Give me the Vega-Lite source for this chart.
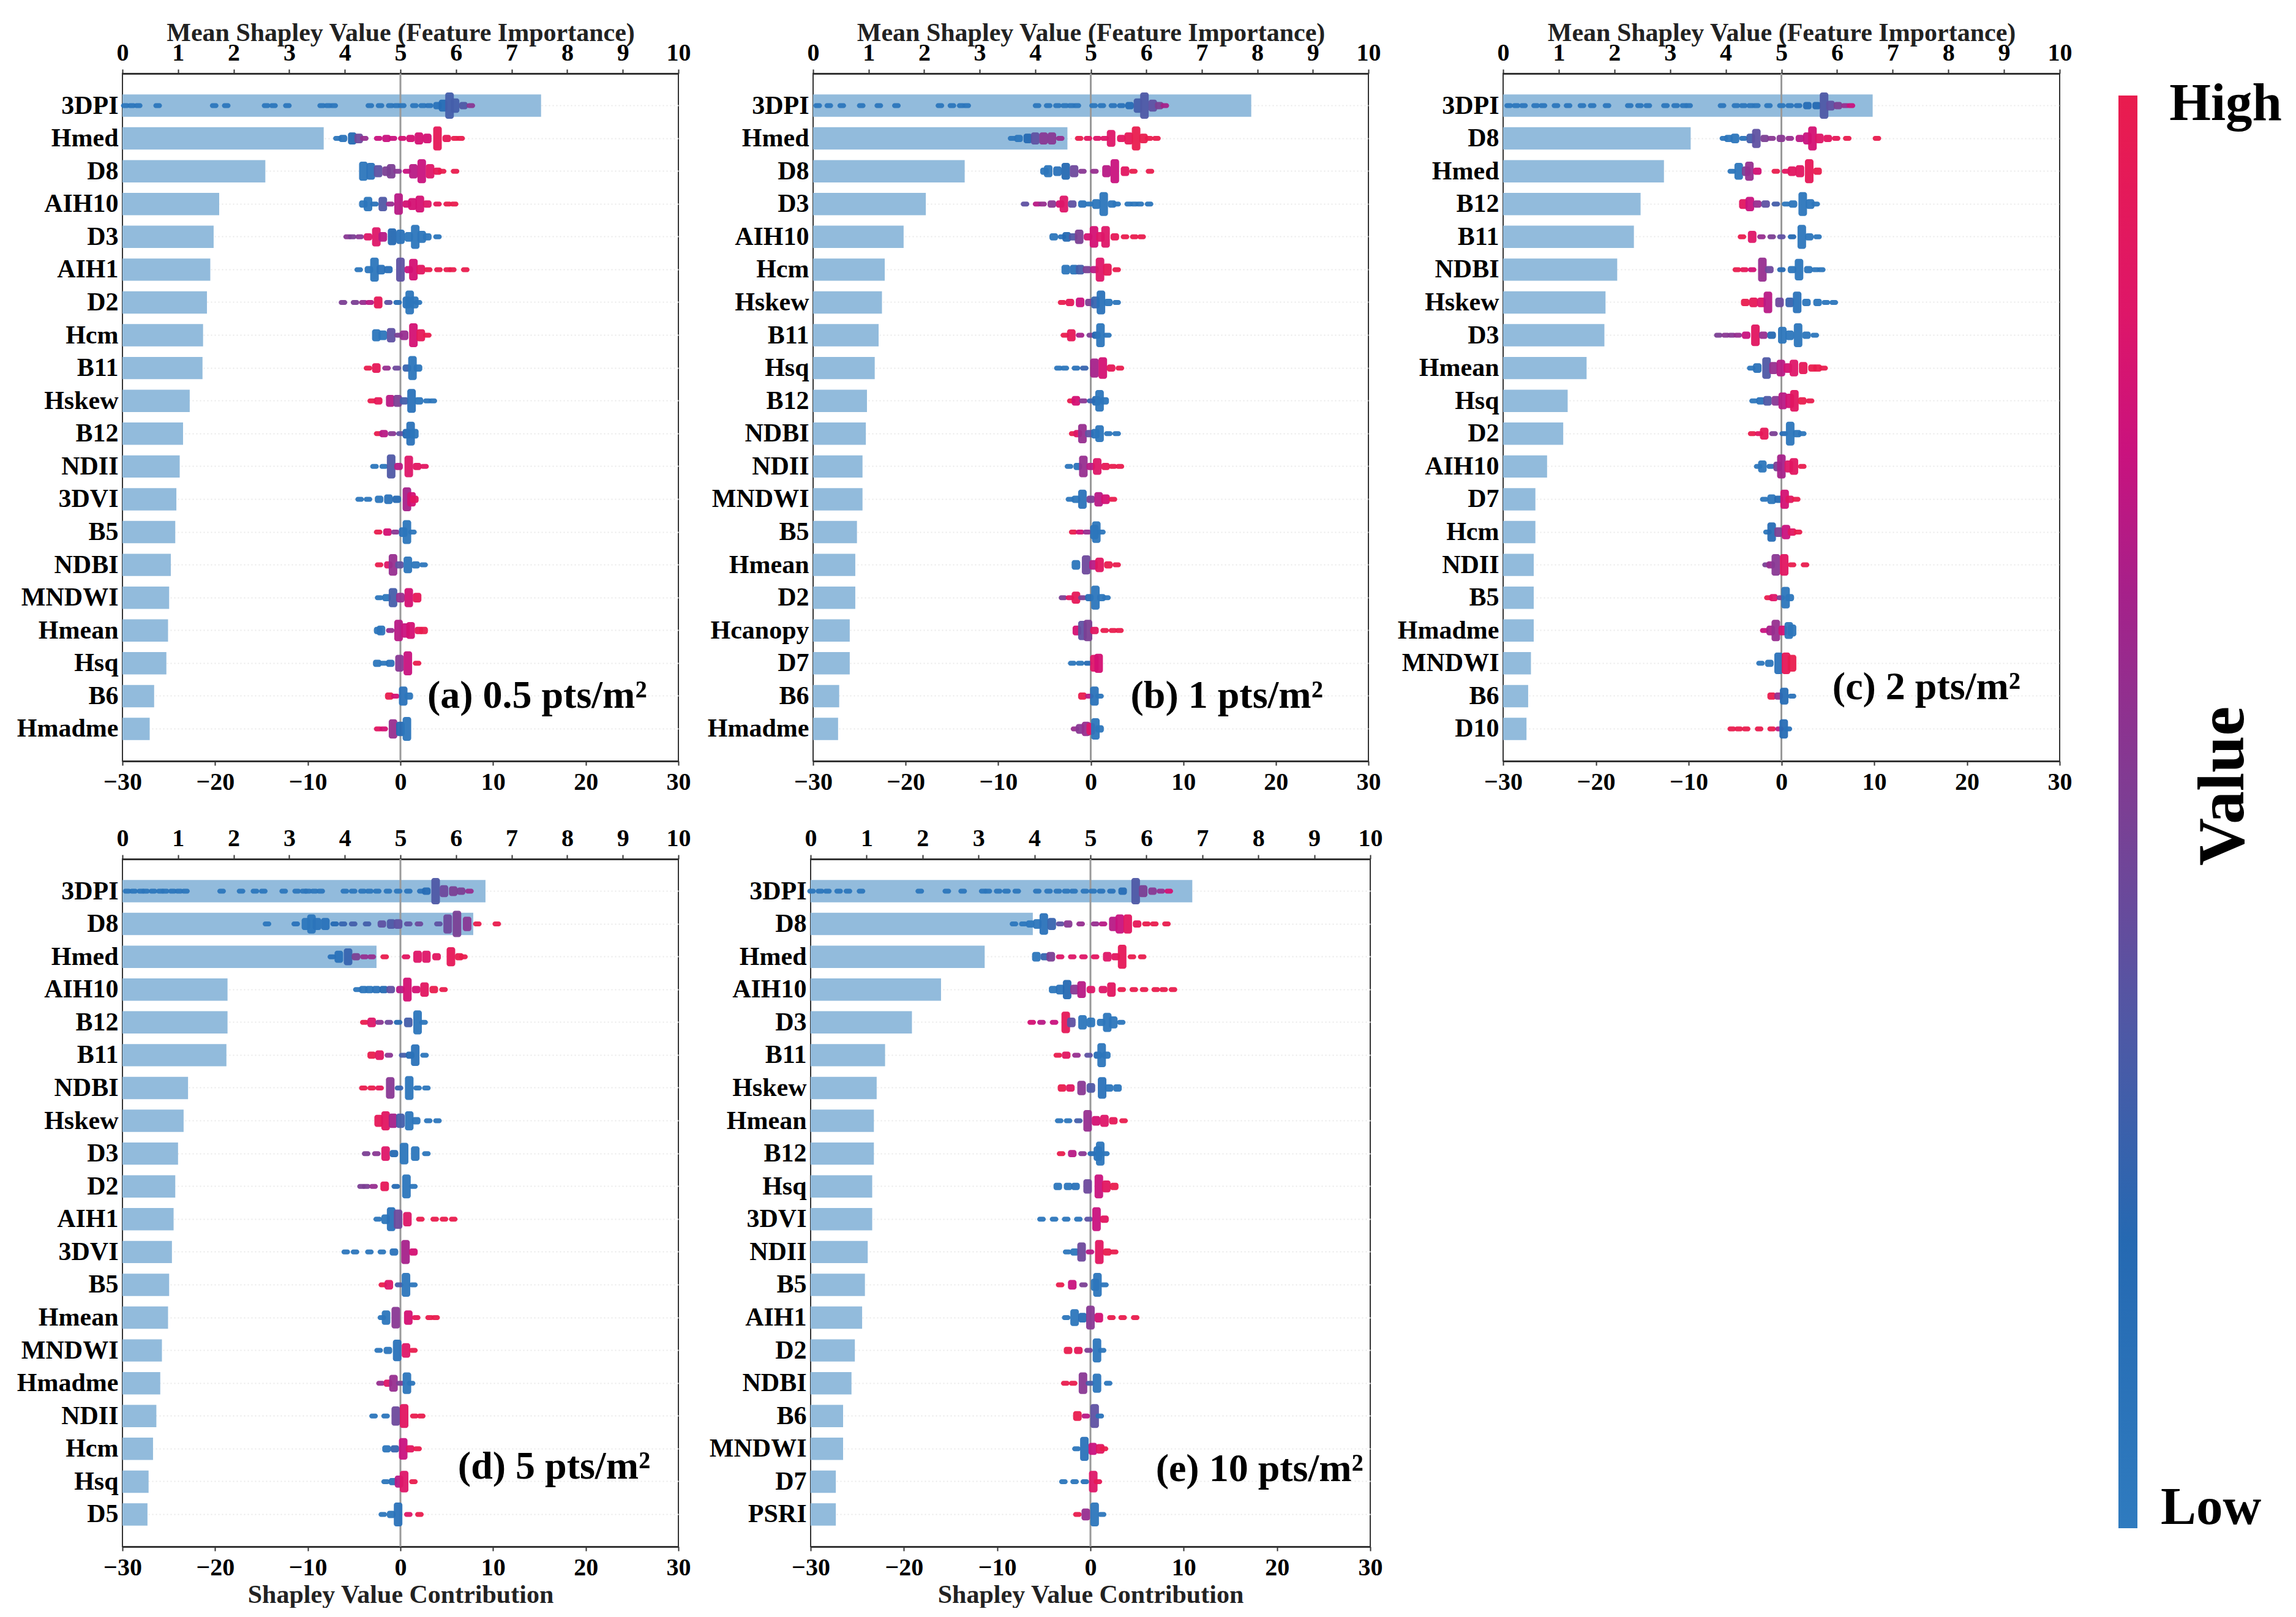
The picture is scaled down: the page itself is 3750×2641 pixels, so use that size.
{
"$schema":"https://vega.github.io/schema/vega-lite/v6.json",
"background":"white",
"padding":{"left":26,"top":31,"right":0,"bottom":0},
"config":{
"font":"Liberation Serif",
"view":{"stroke":"#333","strokeWidth":2},
"axis":{"grid":false,"labelFont":"Liberation Serif","labelFontWeight":"bold","labelFontSize":40,"labelColor":"#000","titleFont":"Liberation Serif","titleFontWeight":"bold","titleFontSize":42,"titleColor":"#222","domainColor":"#333","domainWidth":3,"tickColor":"#333","tickWidth":2,"tickSize":7,"labelPadding":7,"labelFlush":false},
"axisY":{"grid":true,"gridColor":"#e9e9e9","gridDash":[2,4],"gridWidth":2,"domain":false,"ticks":false,"labelFontSize":42,"labelPadding":7},
"tick":{"thickness":14,"cornerRadius":4,"opacity":0.95}
},
"datasets":{
"ba":[{"f":"3DPI","m":7.53},{"f":"Hmed","m":3.62},{"f":"D8","m":2.57},{"f":"AIH10","m":1.74},{"f":"D3","m":1.64},{"f":"AIH1","m":1.58},{"f":"D2","m":1.52},{"f":"Hcm","m":1.45},{"f":"B11","m":1.44},{"f":"Hskew","m":1.21},{"f":"B12","m":1.09},{"f":"NDII","m":1.03},{"f":"3DVI","m":0.97},{"f":"B5","m":0.95},{"f":"NDBI","m":0.87},{"f":"MNDWI","m":0.84},{"f":"Hmean","m":0.82},{"f":"Hsq","m":0.79},{"f":"B6","m":0.57},{"f":"Hmadme","m":0.49}],
"bb":[{"f":"3DPI","m":7.89},{"f":"Hmed","m":4.58},{"f":"D8","m":2.73},{"f":"D3","m":2.03},{"f":"AIH10","m":1.63},{"f":"Hcm","m":1.29},{"f":"Hskew","m":1.24},{"f":"B11","m":1.18},{"f":"Hsq","m":1.11},{"f":"B12","m":0.97},{"f":"NDBI","m":0.95},{"f":"NDII","m":0.89},{"f":"MNDWI","m":0.89},{"f":"B5","m":0.79},{"f":"Hmean","m":0.76},{"f":"D2","m":0.76},{"f":"Hcanopy","m":0.66},{"f":"D7","m":0.66},{"f":"B6","m":0.47},{"f":"Hmadme","m":0.45}],
"bc":[{"f":"3DPI","m":6.64},{"f":"D8","m":3.37},{"f":"Hmed","m":2.89},{"f":"B12","m":2.47},{"f":"B11","m":2.35},{"f":"NDBI","m":2.05},{"f":"Hskew","m":1.84},{"f":"D3","m":1.82},{"f":"Hmean","m":1.5},{"f":"Hsq","m":1.16},{"f":"D2","m":1.08},{"f":"AIH10","m":0.79},{"f":"D7","m":0.58},{"f":"Hcm","m":0.58},{"f":"NDII","m":0.55},{"f":"B5","m":0.55},{"f":"Hmadme","m":0.55},{"f":"MNDWI","m":0.5},{"f":"B6","m":0.45},{"f":"D10","m":0.42}],
"bd":[{"f":"3DPI","m":6.53},{"f":"D8","m":6.31},{"f":"Hmed","m":4.57},{"f":"AIH10","m":1.89},{"f":"B12","m":1.89},{"f":"B11","m":1.87},{"f":"NDBI","m":1.18},{"f":"Hskew","m":1.1},{"f":"D3","m":1.0},{"f":"D2","m":0.95},{"f":"AIH1","m":0.92},{"f":"3DVI","m":0.89},{"f":"B5","m":0.84},{"f":"Hmean","m":0.82},{"f":"MNDWI","m":0.71},{"f":"Hmadme","m":0.68},{"f":"NDII","m":0.61},{"f":"Hcm","m":0.55},{"f":"Hsq","m":0.47},{"f":"D5","m":0.45}],
"be":[{"f":"3DPI","m":6.82},{"f":"D8","m":3.97},{"f":"Hmed","m":3.11},{"f":"AIH10","m":2.33},{"f":"D3","m":1.81},{"f":"B11","m":1.33},{"f":"Hskew","m":1.18},{"f":"Hmean","m":1.13},{"f":"B12","m":1.13},{"f":"Hsq","m":1.1},{"f":"3DVI","m":1.1},{"f":"NDII","m":1.02},{"f":"B5","m":0.97},{"f":"AIH1","m":0.92},{"f":"D2","m":0.79},{"f":"NDBI","m":0.73},{"f":"B6","m":0.58},{"f":"MNDWI","m":0.58},{"f":"D7","m":0.45},{"f":"PSRI","m":0.45}],
"a":[
{"f":"3DPI","x":-29.7,"n":1,"v":0.05},{"f":"3DPI","x":-29,"n":1,"v":0.05},{"f":"3DPI","x":-28.3,"n":1,"v":0.05},{"f":"3DPI","x":-26.2,"n":1,"v":0.05},{"f":"3DPI","x":-20.1,"n":1,"v":0.05},{"f":"3DPI","x":-18.8,"n":1,"v":0.05},{"f":"3DPI","x":-14.5,"n":1,"v":0.05},{"f":"3DPI","x":-13.7,"n":1,"v":0.05},{"f":"3DPI","x":-12.2,"n":1,"v":0.05},{"f":"3DPI","x":-8.5,"n":1,"v":0.05},{"f":"3DPI","x":-7.8,"n":1,"v":0.05},{"f":"3DPI","x":-7.2,"n":1,"v":0.05},{"f":"3DPI","x":-3.3,"n":1,"v":0.05},{"f":"3DPI","x":-2.2,"n":1,"v":0.05},{"f":"3DPI","x":-1.1,"n":1,"v":0.05},{"f":"3DPI","x":-0.4,"n":1,"v":0.05},{"f":"3DPI","x":0.2,"n":1,"v":0.05},{"f":"3DPI","x":1.5,"n":1,"v":0.05},{"f":"3DPI","x":2.4,"n":1,"v":0.05},{"f":"3DPI","x":3.1,"n":1,"v":0.08},{"f":"3DPI","x":4,"n":2,"v":0.1},{"f":"3DPI","x":4.6,"n":4,"v":0.15},{"f":"3DPI","x":5.3,"n":10,"v":0.3},{"f":"3DPI","x":5.9,"n":5,"v":0.3},{"f":"3DPI","x":6.8,"n":2,"v":0.35},{"f":"3DPI","x":7.6,"n":1,"v":0.55},
{"f":"Hmed","x":-6.8,"n":1,"v":0.05},{"f":"Hmed","x":-6.2,"n":2,"v":0.08},{"f":"Hmed","x":-5.2,"n":4,"v":0.2},{"f":"Hmed","x":-4.5,"n":3,"v":0.45},{"f":"Hmed","x":-3.9,"n":1,"v":0.6},{"f":"Hmed","x":-2.4,"n":1,"v":0.75},{"f":"Hmed","x":-1.5,"n":2,"v":0.75},{"f":"Hmed","x":-0.8,"n":1,"v":0.75},{"f":"Hmed","x":0.2,"n":1,"v":0.8},{"f":"Hmed","x":1.1,"n":2,"v":0.8},{"f":"Hmed","x":2,"n":4,"v":0.8},{"f":"Hmed","x":2.9,"n":3,"v":0.8},{"f":"Hmed","x":4,"n":9,"v":0.95},{"f":"Hmed","x":5,"n":2,"v":0.95},{"f":"Hmed","x":5.9,"n":1,"v":1},{"f":"Hmed","x":6.5,"n":1,"v":1},
{"f":"D8","x":-4,"n":7,"v":0.05},{"f":"D8","x":-3.2,"n":6,"v":0.1},{"f":"D8","x":-2.4,"n":4,"v":0.4},{"f":"D8","x":-1.5,"n":3,"v":0.5},{"f":"D8","x":-1,"n":5,"v":0.5},{"f":"D8","x":-0.3,"n":1,"v":0.55},{"f":"D8","x":0.7,"n":1,"v":0.75},{"f":"D8","x":1.4,"n":5,"v":0.7},{"f":"D8","x":2.3,"n":9,"v":0.75},{"f":"D8","x":3.2,"n":5,"v":0.85},{"f":"D8","x":4,"n":2,"v":0.95},{"f":"D8","x":4.5,"n":1,"v":1},{"f":"D8","x":5.9,"n":1,"v":1},
{"f":"AIH10","x":-4,"n":2,"v":0.05},{"f":"AIH10","x":-3.5,"n":5,"v":0.05},{"f":"AIH10","x":-2.8,"n":1,"v":0.1},{"f":"AIH10","x":-1.9,"n":5,"v":0.35},{"f":"AIH10","x":-1.1,"n":1,"v":0.6},{"f":"AIH10","x":-0.2,"n":8,"v":0.7},{"f":"AIH10","x":0.7,"n":2,"v":0.8},{"f":"AIH10","x":1.3,"n":4,"v":0.8},{"f":"AIH10","x":2.1,"n":6,"v":0.8},{"f":"AIH10","x":2.9,"n":2,"v":0.85},{"f":"AIH10","x":4,"n":1,"v":0.95},{"f":"AIH10","x":5.1,"n":1,"v":1},{"f":"AIH10","x":5.8,"n":1,"v":1},
{"f":"D3","x":-5.7,"n":1,"v":0.55},{"f":"D3","x":-5.2,"n":1,"v":0.5},{"f":"D3","x":-4.4,"n":1,"v":0.55},{"f":"D3","x":-3.5,"n":2,"v":0.85},{"f":"D3","x":-2.6,"n":7,"v":0.85},{"f":"D3","x":-1.9,"n":3,"v":0.7},{"f":"D3","x":-0.9,"n":6,"v":0.2},{"f":"D3","x":0,"n":5,"v":0.1},{"f":"D3","x":0.9,"n":3,"v":0.05},{"f":"D3","x":1.6,"n":9,"v":0.05},{"f":"D3","x":2.3,"n":4,"v":0.05},{"f":"D3","x":2.9,"n":2,"v":0.05},{"f":"D3","x":4,"n":1,"v":0.05},
{"f":"AIH1","x":-4.5,"n":1,"v":0.05},{"f":"AIH1","x":-3.4,"n":2,"v":0.05},{"f":"AIH1","x":-2.8,"n":9,"v":0.05},{"f":"AIH1","x":-2.1,"n":3,"v":0.1},{"f":"AIH1","x":-1.3,"n":2,"v":0.15},{"f":"AIH1","x":0,"n":9,"v":0.4},{"f":"AIH1","x":0.9,"n":2,"v":0.75},{"f":"AIH1","x":1.4,"n":8,"v":0.8},{"f":"AIH1","x":2.2,"n":3,"v":0.9},{"f":"AIH1","x":3,"n":1,"v":1},{"f":"AIH1","x":4.1,"n":1,"v":1},{"f":"AIH1","x":5.1,"n":1,"v":1},{"f":"AIH1","x":5.6,"n":1,"v":1},{"f":"AIH1","x":7,"n":1,"v":1},
{"f":"D2","x":-6.2,"n":1,"v":0.5},{"f":"D2","x":-4.9,"n":1,"v":0.5},{"f":"D2","x":-4,"n":1,"v":0.6},{"f":"D2","x":-3.3,"n":1,"v":0.7},{"f":"D2","x":-2.4,"n":4,"v":0.95},{"f":"D2","x":-1.3,"n":1,"v":0.4},{"f":"D2","x":-0.3,"n":1,"v":0.15},{"f":"D2","x":0.7,"n":4,"v":0.1},{"f":"D2","x":1,"n":9,"v":0.05},{"f":"D2","x":1.5,"n":4,"v":0.05},{"f":"D2","x":1.9,"n":1,"v":0.05},
{"f":"Hcm","x":-2.6,"n":4,"v":0.05},{"f":"Hcm","x":-1.9,"n":3,"v":0.05},{"f":"Hcm","x":-1,"n":5,"v":0.4},{"f":"Hcm","x":-0.2,"n":1,"v":0.5},{"f":"Hcm","x":0.4,"n":3,"v":0.6},{"f":"Hcm","x":1.4,"n":9,"v":0.8},{"f":"Hcm","x":2.2,"n":4,"v":0.95},{"f":"Hcm","x":2.9,"n":1,"v":1},
{"f":"B11","x":-3.5,"n":1,"v":1},{"f":"B11","x":-2.6,"n":3,"v":0.95},{"f":"B11","x":-1.5,"n":1,"v":0.6},{"f":"B11","x":-0.4,"n":1,"v":0.45},{"f":"B11","x":0.7,"n":2,"v":0.25},{"f":"B11","x":1.3,"n":9,"v":0.05},{"f":"B11","x":1.9,"n":2,"v":0.05},
{"f":"Hskew","x":-3.1,"n":1,"v":1},{"f":"Hskew","x":-2.4,"n":2,"v":0.95},{"f":"Hskew","x":-1.1,"n":4,"v":0.7},{"f":"Hskew","x":-0.3,"n":4,"v":0.5},{"f":"Hskew","x":0.4,"n":2,"v":0.3},{"f":"Hskew","x":1.2,"n":9,"v":0.1},{"f":"Hskew","x":2,"n":2,"v":0.05},{"f":"Hskew","x":2.9,"n":1,"v":0.05},{"f":"Hskew","x":3.5,"n":1,"v":0.05},
{"f":"B12","x":-2.4,"n":1,"v":1},{"f":"B12","x":-1.8,"n":2,"v":0.7},{"f":"B12","x":-0.9,"n":1,"v":0.55},{"f":"B12","x":0,"n":1,"v":0.4},{"f":"B12","x":0.7,"n":3,"v":0.2},{"f":"B12","x":1.1,"n":9,"v":0.1},{"f":"B12","x":1.5,"n":3,"v":0.05},
{"f":"NDII","x":-2.8,"n":1,"v":0.05},{"f":"NDII","x":-1.8,"n":1,"v":0.05},{"f":"NDII","x":-1,"n":9,"v":0.35},{"f":"NDII","x":-0.2,"n":2,"v":0.7},{"f":"NDII","x":0.9,"n":8,"v":0.85},{"f":"NDII","x":1.8,"n":2,"v":0.9},{"f":"NDII","x":2.6,"n":1,"v":0.9},
{"f":"3DVI","x":-4.4,"n":1,"v":0.05},{"f":"3DVI","x":-3.5,"n":1,"v":0.05},{"f":"3DVI","x":-2.3,"n":2,"v":0.05},{"f":"3DVI","x":-1.3,"n":3,"v":0.1},{"f":"3DVI","x":-0.4,"n":2,"v":0.2},{"f":"3DVI","x":0.7,"n":9,"v":0.65},{"f":"3DVI","x":1.2,"n":5,"v":0.8},{"f":"3DVI","x":1.5,"n":2,"v":0.9},
{"f":"B5","x":-2.4,"n":1,"v":1},{"f":"B5","x":-1.4,"n":2,"v":0.8},{"f":"B5","x":-0.55,"n":1,"v":0.55},{"f":"B5","x":0.3,"n":3,"v":0.1},{"f":"B5","x":0.7,"n":9,"v":0.05},{"f":"B5","x":1.3,"n":1,"v":0.05},
{"f":"NDBI","x":-2.3,"n":1,"v":1},{"f":"NDBI","x":-1.3,"n":2,"v":0.85},{"f":"NDBI","x":-0.8,"n":8,"v":0.6},{"f":"NDBI","x":-0.1,"n":2,"v":0.4},{"f":"NDBI","x":0.8,"n":6,"v":0.05},{"f":"NDBI","x":1.65,"n":2,"v":0.05},{"f":"NDBI","x":2.5,"n":1,"v":0.05},
{"f":"MNDWI","x":-2.3,"n":1,"v":0.05},{"f":"MNDWI","x":-1.5,"n":2,"v":0.05},{"f":"MNDWI","x":-0.8,"n":7,"v":0.3},{"f":"MNDWI","x":0,"n":3,"v":0.6},{"f":"MNDWI","x":0.9,"n":7,"v":0.8},{"f":"MNDWI","x":1.8,"n":3,"v":0.95},
{"f":"Hmean","x":-2.4,"n":2,"v":0.05},{"f":"Hmean","x":-2.1,"n":3,"v":0.05},{"f":"Hmean","x":-1.1,"n":1,"v":0.6},{"f":"Hmean","x":-0.2,"n":8,"v":0.7},{"f":"Hmean","x":0.55,"n":5,"v":0.75},{"f":"Hmean","x":1.1,"n":6,"v":0.8},{"f":"Hmean","x":2,"n":2,"v":0.95},{"f":"Hmean","x":2.5,"n":2,"v":1},
{"f":"Hsq","x":-2.5,"n":2,"v":0.05},{"f":"Hsq","x":-1.8,"n":1,"v":0.05},{"f":"Hsq","x":-1.1,"n":2,"v":0.1},{"f":"Hsq","x":-0.1,"n":6,"v":0.55},{"f":"Hsq","x":0.8,"n":9,"v":0.75},{"f":"Hsq","x":1.8,"n":1,"v":1},
{"f":"B6","x":-1.2,"n":2,"v":1},{"f":"B6","x":-0.55,"n":1,"v":0.8},{"f":"B6","x":0.3,"n":7,"v":0.1},{"f":"B6","x":0.9,"n":2,"v":0.05},
{"f":"Hmadme","x":-2.4,"n":1,"v":0.9},{"f":"Hmadme","x":-1.8,"n":1,"v":0.8},{"f":"Hmadme","x":-0.8,"n":7,"v":0.6},{"f":"Hmadme","x":0,"n":5,"v":0.2},{"f":"Hmadme","x":0.7,"n":9,"v":0.05}
],
"b":[
{"f":"3DPI","x":-29.5,"n":1,"v":0.05},{"f":"3DPI","x":-28.3,"n":1,"v":0.05},{"f":"3DPI","x":-26.9,"n":1,"v":0.05},{"f":"3DPI","x":-24.8,"n":1,"v":0.05},{"f":"3DPI","x":-22.9,"n":1,"v":0.05},{"f":"3DPI","x":-21,"n":1,"v":0.05},{"f":"3DPI","x":-16.3,"n":1,"v":0.05},{"f":"3DPI","x":-15,"n":1,"v":0.05},{"f":"3DPI","x":-14,"n":1,"v":0.05},{"f":"3DPI","x":-13.4,"n":1,"v":0.05},{"f":"3DPI","x":-5.8,"n":1,"v":0.05},{"f":"3DPI","x":-4.6,"n":1,"v":0.05},{"f":"3DPI","x":-3.6,"n":1,"v":0.05},{"f":"3DPI","x":-2.8,"n":1,"v":0.05},{"f":"3DPI","x":-2.1,"n":1,"v":0.05},{"f":"3DPI","x":-1.5,"n":1,"v":0.05},{"f":"3DPI","x":0.3,"n":1,"v":0.05},{"f":"3DPI","x":1.2,"n":1,"v":0.05},{"f":"3DPI","x":2.4,"n":1,"v":0.08},{"f":"3DPI","x":3.3,"n":1,"v":0.1},{"f":"3DPI","x":4.2,"n":2,"v":0.15},{"f":"3DPI","x":5.1,"n":5,"v":0.3},{"f":"3DPI","x":5.8,"n":10,"v":0.35},{"f":"3DPI","x":6.7,"n":4,"v":0.4},{"f":"3DPI","x":7.4,"n":2,"v":0.5},{"f":"3DPI","x":8,"n":1,"v":0.65},
{"f":"Hmed","x":-8.5,"n":1,"v":0.05},{"f":"Hmed","x":-7.8,"n":2,"v":0.05},{"f":"Hmed","x":-6.8,"n":3,"v":0.2},{"f":"Hmed","x":-6,"n":4,"v":0.4},{"f":"Hmed","x":-5.1,"n":4,"v":0.55},{"f":"Hmed","x":-4.2,"n":4,"v":0.55},{"f":"Hmed","x":-3.3,"n":1,"v":0.6},{"f":"Hmed","x":-1.25,"n":1,"v":1},{"f":"Hmed","x":-0.3,"n":1,"v":0.9},{"f":"Hmed","x":0.7,"n":1,"v":0.85},{"f":"Hmed","x":1.5,"n":1,"v":0.85},{"f":"Hmed","x":2.2,"n":6,"v":0.85},{"f":"Hmed","x":3.3,"n":2,"v":0.9},{"f":"Hmed","x":4.1,"n":4,"v":0.95},{"f":"Hmed","x":4.9,"n":9,"v":1},{"f":"Hmed","x":5.7,"n":3,"v":1},{"f":"Hmed","x":6.3,"n":1,"v":1},{"f":"Hmed","x":7.1,"n":1,"v":1},
{"f":"D8","x":-5,"n":2,"v":0.05},{"f":"D8","x":-4.6,"n":4,"v":0.05},{"f":"D8","x":-3.6,"n":3,"v":0.1},{"f":"D8","x":-2.7,"n":6,"v":0.2},{"f":"D8","x":-1.8,"n":4,"v":0.45},{"f":"D8","x":-0.9,"n":1,"v":0.55},{"f":"D8","x":0.4,"n":1,"v":0.6},{"f":"D8","x":1.7,"n":4,"v":0.7},{"f":"D8","x":2.6,"n":9,"v":0.75},{"f":"D8","x":3.7,"n":3,"v":0.9},{"f":"D8","x":4.6,"n":1,"v":1},{"f":"D8","x":6.4,"n":1,"v":1},
{"f":"D3","x":-7.1,"n":1,"v":0.4},{"f":"D3","x":-5.8,"n":1,"v":0.7},{"f":"D3","x":-5.2,"n":1,"v":0.6},{"f":"D3","x":-4.2,"n":2,"v":0.55},{"f":"D3","x":-3.3,"n":2,"v":0.8},{"f":"D3","x":-2.9,"n":6,"v":0.85},{"f":"D3","x":-2,"n":2,"v":0.4},{"f":"D3","x":-0.9,"n":2,"v":0.1},{"f":"D3","x":-0.15,"n":1,"v":0.05},{"f":"D3","x":0.6,"n":3,"v":0.05},{"f":"D3","x":1.4,"n":9,"v":0.05},{"f":"D3","x":2.3,"n":2,"v":0.05},{"f":"D3","x":2.8,"n":1,"v":0.05},{"f":"D3","x":4.1,"n":1,"v":0.05},{"f":"D3","x":4.7,"n":1,"v":0.05},{"f":"D3","x":5.3,"n":1,"v":0.05},{"f":"D3","x":6.3,"n":1,"v":0.05},
{"f":"AIH10","x":-4,"n":2,"v":0.05},{"f":"AIH10","x":-3.1,"n":1,"v":0.1},{"f":"AIH10","x":-2.6,"n":3,"v":0.2},{"f":"AIH10","x":-1.9,"n":2,"v":0.35},{"f":"AIH10","x":-1.25,"n":5,"v":0.5},{"f":"AIH10","x":-0.3,"n":2,"v":0.8},{"f":"AIH10","x":0.35,"n":8,"v":0.8},{"f":"AIH10","x":1.05,"n":3,"v":0.85},{"f":"AIH10","x":1.6,"n":8,"v":0.85},{"f":"AIH10","x":2.6,"n":2,"v":0.95},{"f":"AIH10","x":3.7,"n":1,"v":1},{"f":"AIH10","x":4.7,"n":1,"v":1},{"f":"AIH10","x":5.5,"n":1,"v":1},
{"f":"Hcm","x":-2.7,"n":3,"v":0.05},{"f":"Hcm","x":-1.8,"n":3,"v":0.1},{"f":"Hcm","x":-1.15,"n":3,"v":0.3},{"f":"Hcm","x":-0.4,"n":2,"v":0.5},{"f":"Hcm","x":0.4,"n":2,"v":0.7},{"f":"Hcm","x":1,"n":9,"v":0.85},{"f":"Hcm","x":1.8,"n":4,"v":0.95},{"f":"Hcm","x":2.8,"n":1,"v":1},
{"f":"Hskew","x":-3.1,"n":1,"v":1},{"f":"Hskew","x":-2.25,"n":2,"v":0.95},{"f":"Hskew","x":-1.15,"n":3,"v":0.75},{"f":"Hskew","x":-0.15,"n":2,"v":0.5},{"f":"Hskew","x":0.5,"n":4,"v":0.25},{"f":"Hskew","x":1.1,"n":9,"v":0.1},{"f":"Hskew","x":1.9,"n":2,"v":0.05},{"f":"Hskew","x":2.8,"n":1,"v":0.05},
{"f":"B11","x":-2.8,"n":1,"v":1},{"f":"B11","x":-2.1,"n":4,"v":0.95},{"f":"B11","x":-1.15,"n":1,"v":0.65},{"f":"B11","x":0,"n":1,"v":0.5},{"f":"B11","x":0.6,"n":2,"v":0.2},{"f":"B11","x":1.05,"n":9,"v":0.05},{"f":"B11","x":1.8,"n":1,"v":0.05},
{"f":"Hsq","x":-3.5,"n":1,"v":0.05},{"f":"Hsq","x":-2.8,"n":1,"v":0.05},{"f":"Hsq","x":-1.6,"n":1,"v":0.1},{"f":"Hsq","x":-0.7,"n":1,"v":0.25},{"f":"Hsq","x":0.4,"n":7,"v":0.65},{"f":"Hsq","x":1.3,"n":8,"v":0.8},{"f":"Hsq","x":2.2,"n":2,"v":0.95},{"f":"Hsq","x":3.15,"n":1,"v":1},
{"f":"B12","x":-2.1,"n":1,"v":1},{"f":"B12","x":-1.6,"n":3,"v":0.8},{"f":"B12","x":-0.8,"n":1,"v":0.55},{"f":"B12","x":0.05,"n":1,"v":0.25},{"f":"B12","x":0.6,"n":3,"v":0.15},{"f":"B12","x":0.95,"n":8,"v":0.05},{"f":"B12","x":1.5,"n":2,"v":0.05},
{"f":"NDBI","x":-1.9,"n":1,"v":1},{"f":"NDBI","x":-1.4,"n":2,"v":0.85},{"f":"NDBI","x":-0.9,"n":7,"v":0.6},{"f":"NDBI","x":-0.15,"n":2,"v":0.4},{"f":"NDBI","x":0.5,"n":3,"v":0.1},{"f":"NDBI","x":0.95,"n":6,"v":0.05},{"f":"NDBI","x":1.9,"n":1,"v":0.05},{"f":"NDBI","x":2.8,"n":1,"v":0.05},
{"f":"NDII","x":-2.35,"n":1,"v":0.05},{"f":"NDII","x":-1.4,"n":2,"v":0.1},{"f":"NDII","x":-0.8,"n":8,"v":0.6},{"f":"NDII","x":0,"n":2,"v":0.7},{"f":"NDII","x":0.7,"n":6,"v":0.85},{"f":"NDII","x":1.6,"n":2,"v":0.95},{"f":"NDII","x":2.4,"n":1,"v":1},{"f":"NDII","x":3.15,"n":1,"v":1},
{"f":"MNDWI","x":-2.25,"n":1,"v":0.05},{"f":"MNDWI","x":-1.6,"n":2,"v":0.05},{"f":"MNDWI","x":-0.9,"n":7,"v":0.1},{"f":"MNDWI","x":0,"n":2,"v":0.5},{"f":"MNDWI","x":0.85,"n":5,"v":0.7},{"f":"MNDWI","x":1.6,"n":3,"v":0.8},{"f":"MNDWI","x":2.4,"n":1,"v":1},
{"f":"B5","x":-1.9,"n":1,"v":1},{"f":"B5","x":-1.15,"n":1,"v":0.8},{"f":"B5","x":-0.4,"n":1,"v":0.6},{"f":"B5","x":0.4,"n":5,"v":0.1},{"f":"B5","x":0.6,"n":8,"v":0.05},{"f":"B5","x":1.15,"n":1,"v":0.05},
{"f":"Hmean","x":-1.6,"n":3,"v":0.05},{"f":"Hmean","x":-0.5,"n":7,"v":0.45},{"f":"Hmean","x":0.3,"n":3,"v":0.7},{"f":"Hmean","x":0.95,"n":5,"v":0.9},{"f":"Hmean","x":1.9,"n":2,"v":1},{"f":"Hmean","x":2.8,"n":1,"v":1},
{"f":"D2","x":-3,"n":1,"v":0.5},{"f":"D2","x":-2.25,"n":1,"v":0.9},{"f":"D2","x":-1.6,"n":4,"v":0.95},{"f":"D2","x":-0.9,"n":1,"v":0.5},{"f":"D2","x":-0.15,"n":2,"v":0.15},{"f":"D2","x":0.5,"n":9,"v":0.05},{"f":"D2","x":1.15,"n":2,"v":0.05},{"f":"D2","x":1.7,"n":1,"v":0.05},
{"f":"Hcanopy","x":-1.5,"n":3,"v":0.8},{"f":"Hcanopy","x":-0.9,"n":7,"v":0.4},{"f":"Hcanopy","x":-0.3,"n":8,"v":0.5},{"f":"Hcanopy","x":0.4,"n":2,"v":0.9},{"f":"Hcanopy","x":1.5,"n":1,"v":1},{"f":"Hcanopy","x":2.4,"n":1,"v":1},{"f":"Hcanopy","x":3.1,"n":1,"v":1},
{"f":"D7","x":-2,"n":1,"v":0.05},{"f":"D7","x":-1.15,"n":1,"v":0.05},{"f":"D7","x":-0.3,"n":1,"v":0.2},{"f":"D7","x":0.4,"n":6,"v":0.85},{"f":"D7","x":0.85,"n":7,"v":0.8},
{"f":"B6","x":-0.9,"n":2,"v":1},{"f":"B6","x":-0.15,"n":1,"v":0.7},{"f":"B6","x":0.4,"n":7,"v":0.1},{"f":"B6","x":0.95,"n":1,"v":0.05},
{"f":"Hmadme","x":-1.7,"n":1,"v":0.6},{"f":"Hmadme","x":-1.15,"n":3,"v":0.55},{"f":"Hmadme","x":-0.5,"n":5,"v":0.6},{"f":"Hmadme","x":0,"n":4,"v":0.85},{"f":"Hmadme","x":0.5,"n":8,"v":0.05},{"f":"Hmadme","x":0.95,"n":2,"v":0.05}
],
"c":[
{"f":"3DPI","x":-29.4,"n":1,"v":0.05},{"f":"3DPI","x":-28.6,"n":1,"v":0.05},{"f":"3DPI","x":-27.8,"n":1,"v":0.05},{"f":"3DPI","x":-26.5,"n":1,"v":0.05},{"f":"3DPI","x":-25.7,"n":1,"v":0.05},{"f":"3DPI","x":-24.3,"n":1,"v":0.05},{"f":"3DPI","x":-23,"n":1,"v":0.05},{"f":"3DPI","x":-21.5,"n":1,"v":0.05},{"f":"3DPI","x":-20.4,"n":1,"v":0.05},{"f":"3DPI","x":-18.8,"n":1,"v":0.05},{"f":"3DPI","x":-16.4,"n":1,"v":0.05},{"f":"3DPI","x":-15.3,"n":1,"v":0.05},{"f":"3DPI","x":-14.4,"n":1,"v":0.05},{"f":"3DPI","x":-12.5,"n":1,"v":0.05},{"f":"3DPI","x":-11.4,"n":1,"v":0.05},{"f":"3DPI","x":-10.5,"n":1,"v":0.05},{"f":"3DPI","x":-10,"n":1,"v":0.05},{"f":"3DPI","x":-6.4,"n":1,"v":0.05},{"f":"3DPI","x":-4.9,"n":1,"v":0.05},{"f":"3DPI","x":-4.1,"n":1,"v":0.05},{"f":"3DPI","x":-3.3,"n":1,"v":0.05},{"f":"3DPI","x":-2.7,"n":1,"v":0.05},{"f":"3DPI","x":-1.4,"n":1,"v":0.05},{"f":"3DPI","x":0,"n":1,"v":0.05},{"f":"3DPI","x":0.9,"n":1,"v":0.08},{"f":"3DPI","x":1.8,"n":1,"v":0.1},{"f":"3DPI","x":2.8,"n":2,"v":0.15},{"f":"3DPI","x":3.8,"n":2,"v":0.2},{"f":"3DPI","x":4.6,"n":10,"v":0.35},{"f":"3DPI","x":5.3,"n":3,"v":0.4},{"f":"3DPI","x":6.1,"n":2,"v":0.5},{"f":"3DPI","x":6.9,"n":1,"v":0.6},{"f":"3DPI","x":7.5,"n":1,"v":0.75},
{"f":"D8","x":-6.2,"n":1,"v":0.05},{"f":"D8","x":-5.7,"n":2,"v":0.05},{"f":"D8","x":-5,"n":3,"v":0.05},{"f":"D8","x":-4.1,"n":1,"v":0.1},{"f":"D8","x":-3.3,"n":3,"v":0.3},{"f":"D8","x":-2.7,"n":7,"v":0.4},{"f":"D8","x":-1.8,"n":2,"v":0.5},{"f":"D8","x":-1.05,"n":1,"v":0.55},{"f":"D8","x":-0.05,"n":2,"v":0.55},{"f":"D8","x":0.9,"n":1,"v":0.6},{"f":"D8","x":2,"n":2,"v":0.7},{"f":"D8","x":2.8,"n":4,"v":0.75},{"f":"D8","x":3.35,"n":9,"v":0.8},{"f":"D8","x":4.1,"n":3,"v":0.85},{"f":"D8","x":5,"n":2,"v":0.9},{"f":"D8","x":5.9,"n":1,"v":0.95},{"f":"D8","x":7.1,"n":1,"v":1},{"f":"D8","x":10.3,"n":1,"v":1},
{"f":"Hmed","x":-5.35,"n":1,"v":0.05},{"f":"Hmed","x":-4.6,"n":6,"v":0.05},{"f":"Hmed","x":-3.8,"n":3,"v":0.5},{"f":"Hmed","x":-3.45,"n":7,"v":0.6},{"f":"Hmed","x":-2.6,"n":2,"v":0.8},{"f":"Hmed","x":-0.6,"n":1,"v":1},{"f":"Hmed","x":0.5,"n":1,"v":0.9},{"f":"Hmed","x":1.15,"n":3,"v":0.9},{"f":"Hmed","x":2,"n":4,"v":0.9},{"f":"Hmed","x":3,"n":9,"v":0.95},{"f":"Hmed","x":3.9,"n":2,"v":1},
{"f":"B12","x":-4.1,"n":3,"v":0.9},{"f":"B12","x":-3.4,"n":5,"v":0.75},{"f":"B12","x":-2.6,"n":2,"v":0.6},{"f":"B12","x":-1.7,"n":2,"v":0.4},{"f":"B12","x":-0.6,"n":1,"v":0.3},{"f":"B12","x":0.5,"n":1,"v":0.05},{"f":"B12","x":1.25,"n":2,"v":0.05},{"f":"B12","x":2.3,"n":9,"v":0.05},{"f":"B12","x":3.1,"n":3,"v":0.05},{"f":"B12","x":3.7,"n":1,"v":0.05},
{"f":"B11","x":-4.25,"n":1,"v":1},{"f":"B11","x":-3.15,"n":4,"v":0.85},{"f":"B11","x":-2.15,"n":1,"v":0.6},{"f":"B11","x":-1.05,"n":1,"v":0.5},{"f":"B11","x":0,"n":1,"v":0.4},{"f":"B11","x":1.15,"n":1,"v":0.2},{"f":"B11","x":2.2,"n":9,"v":0.05},{"f":"B11","x":3,"n":2,"v":0.05},{"f":"B11","x":3.9,"n":1,"v":0.05},
{"f":"NDBI","x":-4.8,"n":1,"v":1},{"f":"NDBI","x":-4,"n":1,"v":0.95},{"f":"NDBI","x":-3.15,"n":1,"v":0.8},{"f":"NDBI","x":-2.05,"n":9,"v":0.6},{"f":"NDBI","x":-1.3,"n":2,"v":0.45},{"f":"NDBI","x":0,"n":1,"v":0.2},{"f":"NDBI","x":1.15,"n":2,"v":0.05},{"f":"NDBI","x":1.9,"n":8,"v":0.05},{"f":"NDBI","x":2.9,"n":2,"v":0.05},{"f":"NDBI","x":3.7,"n":1,"v":0.05},{"f":"NDBI","x":4.3,"n":1,"v":0.05},
{"f":"Hskew","x":-3.9,"n":2,"v":1},{"f":"Hskew","x":-3,"n":3,"v":0.95},{"f":"Hskew","x":-2.15,"n":3,"v":0.85},{"f":"Hskew","x":-1.45,"n":8,"v":0.7},{"f":"Hskew","x":-0.2,"n":3,"v":0.45},{"f":"Hskew","x":0.9,"n":3,"v":0.25},{"f":"Hskew","x":1.7,"n":8,"v":0.1},{"f":"Hskew","x":2.7,"n":2,"v":0.05},{"f":"Hskew","x":3.9,"n":2,"v":0.05},{"f":"Hskew","x":4.8,"n":1,"v":0.05},{"f":"Hskew","x":5.65,"n":1,"v":0.05},
{"f":"D3","x":-6.8,"n":1,"v":0.5},{"f":"D3","x":-6,"n":1,"v":0.55},{"f":"D3","x":-5.35,"n":1,"v":0.55},{"f":"D3","x":-4.7,"n":1,"v":0.6},{"f":"D3","x":-3.8,"n":2,"v":0.75},{"f":"D3","x":-2.8,"n":8,"v":0.9},{"f":"D3","x":-1.95,"n":2,"v":0.6},{"f":"D3","x":-1.05,"n":2,"v":0.2},{"f":"D3","x":0.1,"n":6,"v":0.05},{"f":"D3","x":0.9,"n":3,"v":0.05},{"f":"D3","x":1.8,"n":9,"v":0.05},{"f":"D3","x":2.7,"n":2,"v":0.05},{"f":"D3","x":3.6,"n":1,"v":0.05},
{"f":"Hmean","x":-3.25,"n":1,"v":0.05},{"f":"Hmean","x":-2.6,"n":3,"v":0.1},{"f":"Hmean","x":-1.6,"n":8,"v":0.35},{"f":"Hmean","x":-0.85,"n":4,"v":0.6},{"f":"Hmean","x":-0.05,"n":6,"v":0.7},{"f":"Hmean","x":0.7,"n":3,"v":0.8},{"f":"Hmean","x":1.35,"n":6,"v":0.85},{"f":"Hmean","x":2.35,"n":4,"v":0.95},{"f":"Hmean","x":3.35,"n":2,"v":1},{"f":"Hmean","x":3.9,"n":2,"v":1},{"f":"Hmean","x":4.55,"n":1,"v":1},
{"f":"Hsq","x":-3,"n":1,"v":0.05},{"f":"Hsq","x":-2.25,"n":2,"v":0.1},{"f":"Hsq","x":-1.5,"n":3,"v":0.35},{"f":"Hsq","x":-0.6,"n":3,"v":0.55},{"f":"Hsq","x":0.15,"n":6,"v":0.7},{"f":"Hsq","x":0.9,"n":5,"v":0.8},{"f":"Hsq","x":1.4,"n":8,"v":0.9},{"f":"Hsq","x":2.25,"n":2,"v":1},{"f":"Hsq","x":3.1,"n":1,"v":1},
{"f":"D2","x":-3.15,"n":1,"v":1},{"f":"D2","x":-2.4,"n":1,"v":0.9},{"f":"D2","x":-1.85,"n":4,"v":0.95},{"f":"D2","x":-0.85,"n":1,"v":0.5},{"f":"D2","x":0.25,"n":1,"v":0.15},{"f":"D2","x":0.95,"n":9,"v":0.05},{"f":"D2","x":1.7,"n":2,"v":0.05},{"f":"D2","x":2.25,"n":1,"v":0.05},
{"f":"AIH10","x":-2.5,"n":1,"v":0.05},{"f":"AIH10","x":-2.05,"n":4,"v":0.05},{"f":"AIH10","x":-1.15,"n":1,"v":0.1},{"f":"AIH10","x":-0.4,"n":3,"v":0.5},{"f":"AIH10","x":0,"n":9,"v":0.65},{"f":"AIH10","x":0.8,"n":4,"v":0.85},{"f":"AIH10","x":1.35,"n":6,"v":0.9},{"f":"AIH10","x":2.25,"n":1,"v":1},
{"f":"D7","x":-1.85,"n":1,"v":0.05},{"f":"D7","x":-1.05,"n":3,"v":0.05},{"f":"D7","x":-0.3,"n":2,"v":0.2},{"f":"D7","x":0.35,"n":7,"v":0.8},{"f":"D7","x":0.9,"n":2,"v":0.9},{"f":"D7","x":1.6,"n":1,"v":1},
{"f":"Hcm","x":-1.5,"n":1,"v":0.05},{"f":"Hcm","x":-1.05,"n":7,"v":0.15},{"f":"Hcm","x":-0.3,"n":3,"v":0.5},{"f":"Hcm","x":0.5,"n":5,"v":0.75},{"f":"Hcm","x":1.15,"n":2,"v":0.9},{"f":"Hcm","x":1.8,"n":1,"v":1},
{"f":"NDII","x":-1.6,"n":1,"v":0.5},{"f":"NDII","x":-1.15,"n":2,"v":0.6},{"f":"NDII","x":-0.6,"n":8,"v":0.55},{"f":"NDII","x":0.3,"n":8,"v":0.9},{"f":"NDII","x":1.15,"n":1,"v":1},{"f":"NDII","x":2.55,"n":1,"v":1},
{"f":"B5","x":-1.4,"n":1,"v":1},{"f":"B5","x":-0.85,"n":2,"v":0.85},{"f":"B5","x":-0.05,"n":1,"v":0.5},{"f":"B5","x":0.45,"n":8,"v":0.05},{"f":"B5","x":0.9,"n":2,"v":0.05},
{"f":"Hmadme","x":-1.85,"n":1,"v":0.75},{"f":"Hmadme","x":-1.15,"n":3,"v":0.65},{"f":"Hmadme","x":-0.6,"n":8,"v":0.6},{"f":"Hmadme","x":0.15,"n":3,"v":0.8},{"f":"Hmadme","x":0.8,"n":6,"v":0.05},{"f":"Hmadme","x":1.15,"n":4,"v":0.05},
{"f":"MNDWI","x":-2.25,"n":1,"v":0.05},{"f":"MNDWI","x":-1.3,"n":2,"v":0.05},{"f":"MNDWI","x":-0.3,"n":8,"v":0.1},{"f":"MNDWI","x":0.5,"n":8,"v":0.95},{"f":"MNDWI","x":1.15,"n":6,"v":1},
{"f":"B6","x":-1.05,"n":2,"v":1},{"f":"B6","x":-0.3,"n":2,"v":0.6},{"f":"B6","x":0.3,"n":6,"v":0.15},{"f":"B6","x":1.15,"n":1,"v":0.1},
{"f":"D10","x":-5.35,"n":1,"v":1},{"f":"D10","x":-4.6,"n":1,"v":1},{"f":"D10","x":-3.8,"n":1,"v":1},{"f":"D10","x":-2.4,"n":1,"v":1},{"f":"D10","x":-1.05,"n":1,"v":1},{"f":"D10","x":-0.2,"n":1,"v":0.7},{"f":"D10","x":0.25,"n":7,"v":0.15},{"f":"D10","x":0.7,"n":1,"v":0.1}
],
"d":[
{"f":"3DPI","x":-29.5,"n":1,"v":0.05},{"f":"3DPI","x":-28.8,"n":1,"v":0.05},{"f":"3DPI","x":-28,"n":1,"v":0.05},{"f":"3DPI","x":-27.5,"n":1,"v":0.05},{"f":"3DPI","x":-26.7,"n":1,"v":0.05},{"f":"3DPI","x":-25.9,"n":1,"v":0.05},{"f":"3DPI","x":-25.4,"n":1,"v":0.05},{"f":"3DPI","x":-24.6,"n":1,"v":0.05},{"f":"3DPI","x":-23.9,"n":1,"v":0.05},{"f":"3DPI","x":-23.2,"n":1,"v":0.05},{"f":"3DPI","x":-19.3,"n":1,"v":0.05},{"f":"3DPI","x":-17.2,"n":1,"v":0.05},{"f":"3DPI","x":-15.7,"n":1,"v":0.05},{"f":"3DPI","x":-14.8,"n":1,"v":0.05},{"f":"3DPI","x":-12.6,"n":1,"v":0.05},{"f":"3DPI","x":-11.2,"n":1,"v":0.05},{"f":"3DPI","x":-10.4,"n":1,"v":0.05},{"f":"3DPI","x":-10,"n":1,"v":0.05},{"f":"3DPI","x":-9.3,"n":1,"v":0.05},{"f":"3DPI","x":-8.6,"n":1,"v":0.05},{"f":"3DPI","x":-6,"n":1,"v":0.05},{"f":"3DPI","x":-5.1,"n":1,"v":0.05},{"f":"3DPI","x":-4.1,"n":1,"v":0.05},{"f":"3DPI","x":-3.35,"n":1,"v":0.05},{"f":"3DPI","x":-2.5,"n":1,"v":0.05},{"f":"3DPI","x":-1.35,"n":1,"v":0.05},{"f":"3DPI","x":-0.25,"n":1,"v":0.05},{"f":"3DPI","x":0.85,"n":1,"v":0.08},{"f":"3DPI","x":2.25,"n":1,"v":0.1},{"f":"3DPI","x":2.8,"n":2,"v":0.15},{"f":"3DPI","x":3.8,"n":10,"v":0.35},{"f":"3DPI","x":4.7,"n":4,"v":0.45},{"f":"3DPI","x":5.7,"n":3,"v":0.5},{"f":"3DPI","x":6.55,"n":2,"v":0.5},{"f":"3DPI","x":7.45,"n":1,"v":0.6},
{"f":"D8","x":-14.4,"n":1,"v":0.05},{"f":"D8","x":-11.3,"n":1,"v":0.1},{"f":"D8","x":-10.2,"n":4,"v":0.05},{"f":"D8","x":-9.6,"n":7,"v":0.05},{"f":"D8","x":-9,"n":4,"v":0.08},{"f":"D8","x":-8.1,"n":4,"v":0.1},{"f":"D8","x":-7.1,"n":1,"v":0.2},{"f":"D8","x":-6.2,"n":1,"v":0.25},{"f":"D8","x":-5.1,"n":1,"v":0.3},{"f":"D8","x":-3.6,"n":1,"v":0.3},{"f":"D8","x":-2,"n":2,"v":0.4},{"f":"D8","x":-1,"n":3,"v":0.35},{"f":"D8","x":-0.25,"n":3,"v":0.4},{"f":"D8","x":0.85,"n":1,"v":0.4},{"f":"D8","x":2,"n":1,"v":0.45},{"f":"D8","x":4.1,"n":1,"v":0.4},{"f":"D8","x":5.1,"n":7,"v":0.45},{"f":"D8","x":6.1,"n":10,"v":0.5},{"f":"D8","x":7.2,"n":5,"v":0.55},{"f":"D8","x":8.3,"n":1,"v":1},{"f":"D8","x":10.4,"n":1,"v":1},
{"f":"Hmed","x":-7.4,"n":1,"v":0.1},{"f":"Hmed","x":-6.65,"n":4,"v":0.1},{"f":"Hmed","x":-5.65,"n":6,"v":0.25},{"f":"Hmed","x":-4.8,"n":2,"v":0.5},{"f":"Hmed","x":-3.9,"n":1,"v":0.6},{"f":"Hmed","x":-3.1,"n":1,"v":0.6},{"f":"Hmed","x":-1.7,"n":1,"v":1},{"f":"Hmed","x":0.6,"n":1,"v":0.9},{"f":"Hmed","x":1.85,"n":4,"v":0.85},{"f":"Hmed","x":2.8,"n":4,"v":0.85},{"f":"Hmed","x":3.9,"n":2,"v":0.9},{"f":"Hmed","x":5.45,"n":7,"v":0.95},{"f":"Hmed","x":6.35,"n":2,"v":1},{"f":"Hmed","x":6.8,"n":1,"v":1},
{"f":"AIH10","x":-4.65,"n":1,"v":0.05},{"f":"AIH10","x":-4,"n":2,"v":0.05},{"f":"AIH10","x":-3.35,"n":2,"v":0.05},{"f":"AIH10","x":-2.6,"n":2,"v":0.1},{"f":"AIH10","x":-1.8,"n":2,"v":0.2},{"f":"AIH10","x":-1.05,"n":2,"v":0.4},{"f":"AIH10","x":0,"n":2,"v":0.7},{"f":"AIH10","x":0.75,"n":9,"v":0.8},{"f":"AIH10","x":1.7,"n":2,"v":0.8},{"f":"AIH10","x":2.6,"n":5,"v":0.9},{"f":"AIH10","x":3.6,"n":2,"v":1},{"f":"AIH10","x":4.65,"n":1,"v":1},
{"f":"B12","x":-3.9,"n":1,"v":1},{"f":"B12","x":-3.1,"n":3,"v":0.85},{"f":"B12","x":-2.25,"n":1,"v":0.55},{"f":"B12","x":-1.25,"n":1,"v":0.45},{"f":"B12","x":-0.25,"n":1,"v":0.2},{"f":"B12","x":0.85,"n":3,"v":0.3},{"f":"B12","x":1.85,"n":9,"v":0.05},{"f":"B12","x":2.5,"n":1,"v":0.05},
{"f":"B11","x":-3.1,"n":2,"v":1},{"f":"B11","x":-2.25,"n":3,"v":0.9},{"f":"B11","x":-1.25,"n":1,"v":0.55},{"f":"B11","x":0.3,"n":1,"v":0.3},{"f":"B11","x":1.05,"n":2,"v":0.2},{"f":"B11","x":1.6,"n":8,"v":0.1},{"f":"B11","x":2.6,"n":1,"v":0.05},
{"f":"NDBI","x":-4,"n":1,"v":1},{"f":"NDBI","x":-3.1,"n":1,"v":1},{"f":"NDBI","x":-2.25,"n":1,"v":0.95},{"f":"NDBI","x":-1.1,"n":8,"v":0.55},{"f":"NDBI","x":-0.15,"n":1,"v":0.25},{"f":"NDBI","x":0.95,"n":9,"v":0.05},{"f":"NDBI","x":1.85,"n":1,"v":0.05},{"f":"NDBI","x":2.8,"n":1,"v":0.05},
{"f":"Hskew","x":-2.35,"n":4,"v":0.95},{"f":"Hskew","x":-1.6,"n":7,"v":0.9},{"f":"Hskew","x":-0.8,"n":5,"v":0.65},{"f":"Hskew","x":0,"n":5,"v":0.3},{"f":"Hskew","x":0.95,"n":7,"v":0.05},{"f":"Hskew","x":1.7,"n":2,"v":0.05},{"f":"Hskew","x":3,"n":1,"v":0.05},{"f":"Hskew","x":4,"n":1,"v":0.05},
{"f":"D3","x":-3.7,"n":1,"v":0.5},{"f":"D3","x":-2.6,"n":1,"v":0.55},{"f":"D3","x":-1.6,"n":5,"v":0.85},{"f":"D3","x":-0.7,"n":2,"v":0.2},{"f":"D3","x":0.4,"n":8,"v":0.05},{"f":"D3","x":1.6,"n":5,"v":0.05},{"f":"D3","x":2.8,"n":1,"v":0.05},
{"f":"D2","x":-4.2,"n":1,"v":0.5},{"f":"D2","x":-3.7,"n":1,"v":0.5},{"f":"D2","x":-2.9,"n":1,"v":0.6},{"f":"D2","x":-1.7,"n":3,"v":0.95},{"f":"D2","x":-0.5,"n":1,"v":0.2},{"f":"D2","x":0.65,"n":9,"v":0.05},{"f":"D2","x":1.4,"n":1,"v":0.05},
{"f":"AIH1","x":-2.45,"n":1,"v":0.05},{"f":"AIH1","x":-1.6,"n":3,"v":0.05},{"f":"AIH1","x":-1,"n":9,"v":0.1},{"f":"AIH1","x":-0.25,"n":7,"v":0.45},{"f":"AIH1","x":0.75,"n":5,"v":0.85},{"f":"AIH1","x":2.15,"n":1,"v":1},{"f":"AIH1","x":3.7,"n":1,"v":1},{"f":"AIH1","x":4.7,"n":1,"v":1},{"f":"AIH1","x":5.7,"n":1,"v":1},
{"f":"3DVI","x":-5.9,"n":1,"v":0.05},{"f":"3DVI","x":-4.9,"n":1,"v":0.05},{"f":"3DVI","x":-3.35,"n":1,"v":0.05},{"f":"3DVI","x":-2,"n":1,"v":0.05},{"f":"3DVI","x":-0.7,"n":2,"v":0.1},{"f":"3DVI","x":0.55,"n":9,"v":0.65},{"f":"3DVI","x":1.4,"n":2,"v":0.8},
{"f":"B5","x":-1.9,"n":1,"v":1},{"f":"B5","x":-1.25,"n":3,"v":0.85},{"f":"B5","x":-0.15,"n":1,"v":0.3},{"f":"B5","x":0.6,"n":9,"v":0.05},{"f":"B5","x":1.4,"n":1,"v":0.05},
{"f":"Hmean","x":-2,"n":1,"v":0.05},{"f":"Hmean","x":-1.55,"n":5,"v":0.05},{"f":"Hmean","x":-0.5,"n":8,"v":0.55},{"f":"Hmean","x":0.85,"n":5,"v":0.8},{"f":"Hmean","x":1.7,"n":1,"v":0.95},{"f":"Hmean","x":3.15,"n":1,"v":1},{"f":"Hmean","x":3.8,"n":1,"v":1},
{"f":"MNDWI","x":-2.35,"n":1,"v":0.05},{"f":"MNDWI","x":-1.35,"n":2,"v":0.05},{"f":"MNDWI","x":-0.35,"n":8,"v":0.1},{"f":"MNDWI","x":0.6,"n":5,"v":0.85},{"f":"MNDWI","x":1.4,"n":1,"v":1},
{"f":"Hmadme","x":-2.15,"n":1,"v":0.6},{"f":"Hmadme","x":-1.35,"n":2,"v":0.85},{"f":"Hmadme","x":-0.75,"n":6,"v":0.6},{"f":"Hmadme","x":0,"n":1,"v":0.5},{"f":"Hmadme","x":0.7,"n":8,"v":0.05},{"f":"Hmadme","x":1.15,"n":1,"v":0.05},
{"f":"NDII","x":-2.9,"n":1,"v":0.05},{"f":"NDII","x":-1.6,"n":1,"v":0.05},{"f":"NDII","x":-0.5,"n":7,"v":0.45},{"f":"NDII","x":0.4,"n":9,"v":0.9},{"f":"NDII","x":1.5,"n":1,"v":1},{"f":"NDII","x":2.25,"n":1,"v":1},
{"f":"Hcm","x":-1.5,"n":2,"v":0.05},{"f":"Hcm","x":-0.6,"n":2,"v":0.25},{"f":"Hcm","x":0.3,"n":8,"v":0.75},{"f":"Hcm","x":1.05,"n":2,"v":0.9},{"f":"Hcm","x":1.85,"n":1,"v":1},
{"f":"Hsq","x":-1.6,"n":1,"v":0.05},{"f":"Hsq","x":-0.8,"n":2,"v":0.1},{"f":"Hsq","x":-0.15,"n":4,"v":0.7},{"f":"Hsq","x":0.4,"n":8,"v":0.85},{"f":"Hsq","x":1.4,"n":1,"v":1},
{"f":"D5","x":-1.9,"n":1,"v":0.05},{"f":"D5","x":-1,"n":2,"v":0.05},{"f":"D5","x":-0.25,"n":9,"v":0.1},{"f":"D5","x":0.85,"n":1,"v":0.85},{"f":"D5","x":2.05,"n":1,"v":1}
],
"e":[
{"f":"3DPI","x":-29.9,"n":1,"v":0.05},{"f":"3DPI","x":-29,"n":1,"v":0.05},{"f":"3DPI","x":-28.2,"n":1,"v":0.05},{"f":"3DPI","x":-27,"n":1,"v":0.05},{"f":"3DPI","x":-26,"n":1,"v":0.05},{"f":"3DPI","x":-24.6,"n":1,"v":0.05},{"f":"3DPI","x":-18.3,"n":1,"v":0.05},{"f":"3DPI","x":-15.4,"n":1,"v":0.05},{"f":"3DPI","x":-13.7,"n":1,"v":0.05},{"f":"3DPI","x":-11.5,"n":1,"v":0.05},{"f":"3DPI","x":-11,"n":1,"v":0.05},{"f":"3DPI","x":-9.9,"n":1,"v":0.05},{"f":"3DPI","x":-9,"n":1,"v":0.05},{"f":"3DPI","x":-7.9,"n":1,"v":0.05},{"f":"3DPI","x":-5.7,"n":1,"v":0.05},{"f":"3DPI","x":-4.5,"n":1,"v":0.05},{"f":"3DPI","x":-3.5,"n":1,"v":0.05},{"f":"3DPI","x":-2.6,"n":1,"v":0.05},{"f":"3DPI","x":-1.8,"n":1,"v":0.05},{"f":"3DPI","x":-0.6,"n":1,"v":0.05},{"f":"3DPI","x":0.25,"n":1,"v":0.05},{"f":"3DPI","x":1.15,"n":1,"v":0.08},{"f":"3DPI","x":2.25,"n":1,"v":0.1},{"f":"3DPI","x":3.45,"n":2,"v":0.15},{"f":"3DPI","x":4.85,"n":10,"v":0.35},{"f":"3DPI","x":5.65,"n":4,"v":0.5},{"f":"3DPI","x":6.65,"n":2,"v":0.55},{"f":"3DPI","x":7.55,"n":1,"v":0.6},{"f":"3DPI","x":8.4,"n":1,"v":0.8},
{"f":"D8","x":-8.2,"n":1,"v":0.05},{"f":"D8","x":-7.2,"n":1,"v":0.05},{"f":"D8","x":-6.45,"n":2,"v":0.05},{"f":"D8","x":-5.7,"n":3,"v":0.05},{"f":"D8","x":-5,"n":8,"v":0.1},{"f":"D8","x":-4.15,"n":4,"v":0.25},{"f":"D8","x":-3.25,"n":1,"v":0.4},{"f":"D8","x":-2.4,"n":2,"v":0.55},{"f":"D8","x":-1.05,"n":1,"v":0.6},{"f":"D8","x":0.5,"n":1,"v":0.6},{"f":"D8","x":1.35,"n":1,"v":0.7},{"f":"D8","x":2.45,"n":5,"v":0.7},{"f":"D8","x":3.15,"n":7,"v":0.75},{"f":"D8","x":4,"n":7,"v":0.9},{"f":"D8","x":5,"n":2,"v":0.95},{"f":"D8","x":6,"n":1,"v":1},{"f":"D8","x":6.85,"n":1,"v":1},{"f":"D8","x":8.15,"n":1,"v":1},
{"f":"Hmed","x":-5.8,"n":3,"v":0.05},{"f":"Hmed","x":-4.9,"n":2,"v":0.25},{"f":"Hmed","x":-4.25,"n":3,"v":0.5},{"f":"Hmed","x":-3.25,"n":1,"v":0.85},{"f":"Hmed","x":-1.95,"n":1,"v":0.85},{"f":"Hmed","x":-0.75,"n":1,"v":0.85},{"f":"Hmed","x":0.5,"n":1,"v":0.9},{"f":"Hmed","x":1.8,"n":3,"v":0.85},{"f":"Hmed","x":2.7,"n":2,"v":0.9},{"f":"Hmed","x":3.4,"n":9,"v":0.95},{"f":"Hmed","x":4.45,"n":1,"v":1},{"f":"Hmed","x":5.55,"n":1,"v":1},
{"f":"AIH10","x":-4,"n":2,"v":0.05},{"f":"AIH10","x":-3.25,"n":3,"v":0.1},{"f":"AIH10","x":-2.5,"n":7,"v":0.2},{"f":"AIH10","x":-1.7,"n":3,"v":0.55},{"f":"AIH10","x":-0.95,"n":6,"v":0.7},{"f":"AIH10","x":0.05,"n":2,"v":0.85},{"f":"AIH10","x":1.35,"n":2,"v":0.85},{"f":"AIH10","x":2.25,"n":5,"v":0.9},{"f":"AIH10","x":3.35,"n":1,"v":1},{"f":"AIH10","x":4.65,"n":1,"v":1},{"f":"AIH10","x":5.75,"n":1,"v":1},{"f":"AIH10","x":7,"n":1,"v":1},{"f":"AIH10","x":7.85,"n":1,"v":1},{"f":"AIH10","x":8.85,"n":1,"v":1},
{"f":"D3","x":-6.3,"n":1,"v":0.8},{"f":"D3","x":-5.25,"n":1,"v":0.7},{"f":"D3","x":-3.9,"n":1,"v":0.75},{"f":"D3","x":-2.65,"n":8,"v":0.95},{"f":"D3","x":-2.05,"n":3,"v":0.4},{"f":"D3","x":-0.85,"n":5,"v":0.05},{"f":"D3","x":0.05,"n":3,"v":0.05},{"f":"D3","x":1.15,"n":2,"v":0.05},{"f":"D3","x":1.8,"n":7,"v":0.05},{"f":"D3","x":2.45,"n":4,"v":0.05},{"f":"D3","x":3.3,"n":1,"v":0.05},
{"f":"B11","x":-3.5,"n":1,"v":1},{"f":"B11","x":-2.6,"n":2,"v":0.9},{"f":"B11","x":-1.5,"n":1,"v":0.6},{"f":"B11","x":-0.2,"n":1,"v":0.4},{"f":"B11","x":0.8,"n":2,"v":0.15},{"f":"B11","x":1.2,"n":9,"v":0.05},{"f":"B11","x":1.7,"n":2,"v":0.05},
{"f":"Hskew","x":-3.05,"n":2,"v":1},{"f":"Hskew","x":-2.15,"n":2,"v":0.9},{"f":"Hskew","x":-0.95,"n":5,"v":0.55},{"f":"Hskew","x":0.05,"n":3,"v":0.35},{"f":"Hskew","x":1.25,"n":8,"v":0.1},{"f":"Hskew","x":2,"n":2,"v":0.05},{"f":"Hskew","x":2.9,"n":2,"v":0.05},
{"f":"Hmean","x":-3.35,"n":1,"v":0.05},{"f":"Hmean","x":-2.4,"n":1,"v":0.05},{"f":"Hmean","x":-1.3,"n":1,"v":0.3},{"f":"Hmean","x":-0.3,"n":8,"v":0.6},{"f":"Hmean","x":0.6,"n":3,"v":0.8},{"f":"Hmean","x":1.5,"n":4,"v":0.85},{"f":"Hmean","x":2.45,"n":2,"v":0.95},{"f":"Hmean","x":3.55,"n":1,"v":1},
{"f":"B12","x":-3.15,"n":1,"v":1},{"f":"B12","x":-1.95,"n":2,"v":0.7},{"f":"B12","x":-0.85,"n":1,"v":0.55},{"f":"B12","x":0.15,"n":1,"v":0.15},{"f":"B12","x":0.8,"n":5,"v":0.1},{"f":"B12","x":1.05,"n":9,"v":0.05},{"f":"B12","x":1.6,"n":1,"v":0.05},
{"f":"Hsq","x":-3.5,"n":2,"v":0.05},{"f":"Hsq","x":-2.4,"n":2,"v":0.05},{"f":"Hsq","x":-1.6,"n":2,"v":0.1},{"f":"Hsq","x":-0.3,"n":5,"v":0.45},{"f":"Hsq","x":0.9,"n":9,"v":0.75},{"f":"Hsq","x":1.7,"n":4,"v":0.9},{"f":"Hsq","x":2.55,"n":2,"v":1},
{"f":"3DVI","x":-5.25,"n":1,"v":0.05},{"f":"3DVI","x":-3.9,"n":1,"v":0.05},{"f":"3DVI","x":-2.6,"n":1,"v":0.05},{"f":"3DVI","x":-1.3,"n":1,"v":0.05},{"f":"3DVI","x":-0.2,"n":1,"v":0.4},{"f":"3DVI","x":0.65,"n":9,"v":0.75},{"f":"3DVI","x":1.5,"n":2,"v":0.9},
{"f":"NDII","x":-2.5,"n":1,"v":0.05},{"f":"NDII","x":-1.7,"n":2,"v":0.05},{"f":"NDII","x":-0.95,"n":7,"v":0.45},{"f":"NDII","x":-0.05,"n":1,"v":0.7},{"f":"NDII","x":0.95,"n":9,"v":0.9},{"f":"NDII","x":1.8,"n":2,"v":1},{"f":"NDII","x":2.55,"n":1,"v":1},
{"f":"B5","x":-3.25,"n":1,"v":1},{"f":"B5","x":-1.95,"n":3,"v":0.75},{"f":"B5","x":-0.75,"n":1,"v":0.5},{"f":"B5","x":0.5,"n":4,"v":0.05},{"f":"B5","x":0.75,"n":9,"v":0.05},{"f":"B5","x":1.5,"n":1,"v":0.05},
{"f":"AIH1","x":-2.6,"n":1,"v":0.05},{"f":"AIH1","x":-1.7,"n":6,"v":0.05},{"f":"AIH1","x":-0.85,"n":3,"v":0.15},{"f":"AIH1","x":0,"n":9,"v":0.55},{"f":"AIH1","x":0.9,"n":3,"v":0.8},{"f":"AIH1","x":2.25,"n":1,"v":1},{"f":"AIH1","x":3.45,"n":1,"v":1},{"f":"AIH1","x":4.8,"n":1,"v":1},
{"f":"D2","x":-2.4,"n":2,"v":1},{"f":"D2","x":-1.3,"n":2,"v":0.95},{"f":"D2","x":-0.2,"n":1,"v":0.5},{"f":"D2","x":0.7,"n":9,"v":0.05},{"f":"D2","x":1.25,"n":1,"v":0.05},
{"f":"NDBI","x":-2.7,"n":1,"v":1},{"f":"NDBI","x":-1.85,"n":1,"v":1},{"f":"NDBI","x":-0.8,"n":8,"v":0.55},{"f":"NDBI","x":-0.05,"n":1,"v":0.3},{"f":"NDBI","x":0.7,"n":7,"v":0.05},{"f":"NDBI","x":1.9,"n":1,"v":0.05},
{"f":"B6","x":-1.4,"n":3,"v":1},{"f":"B6","x":-0.5,"n":1,"v":0.7},{"f":"B6","x":0.45,"n":9,"v":0.4},{"f":"B6","x":1,"n":1,"v":0.1},
{"f":"MNDWI","x":-1.5,"n":1,"v":0.05},{"f":"MNDWI","x":-0.65,"n":9,"v":0.1},{"f":"MNDWI","x":0.25,"n":4,"v":0.75},{"f":"MNDWI","x":1.05,"n":3,"v":0.9},{"f":"MNDWI","x":1.45,"n":1,"v":1},
{"f":"D7","x":-2.9,"n":1,"v":0.05},{"f":"D7","x":-1.7,"n":1,"v":0.05},{"f":"D7","x":-0.6,"n":1,"v":0.1},{"f":"D7","x":0.3,"n":8,"v":0.85},{"f":"D7","x":0.8,"n":1,"v":0.95},
{"f":"PSRI","x":-1.4,"n":1,"v":1},{"f":"PSRI","x":-0.5,"n":4,"v":0.6},{"f":"PSRI","x":0.45,"n":9,"v":0.05},{"f":"PSRI","x":1.25,"n":1,"v":0.05}
]
},
"hconcat":[
{"vconcat":[
{"hconcat":[
{"width":908,"height":1123,"layer":[
{"data":{"name":"ba"},"mark":{"type":"bar","color":"#92bbdc"},"encoding":{"y":{"field":"f","type":"nominal","sort":null,"title":null,"scale":{"type":"band","paddingInner":0.32,"paddingOuter":0.64}},"x":{"field":"m","type":"quantitative","scale":{"domain":[0,10]},"axis":{"orient":"top","values":[0,1,2,3,4,5,6,7,8,9,10],"title":"Mean Shapley Value (Feature Importance)","titlePadding":-9}}}},
{"data":{"values":[{"z":0}]},"mark":{"type":"rule","color":"#999","strokeWidth":3},"encoding":{"x":{"field":"z","type":"quantitative","scale":{"domain":[-30,30]},"axis":null}}},
{"data":{"name":"a"},"mark":{"type":"tick","orient":"vertical"},"encoding":{"x":{"field":"x","type":"quantitative","scale":{"domain":[-30,30]},"axis":{"orient":"bottom","values":[-30,-20,-10,0,10,20,30],"title":null}},"y":{"field":"f","type":"nominal","sort":null,"title":null},"size":{"field":"n","type":"quantitative","scale":{"domain":[1,10],"range":[8,43]},"legend":null},"color":{"field":"v","type":"quantitative","scale":{"domain":[0,0.2,0.35,0.5,0.65,0.75,0.85,1],"range":["#2f7bbf","#2569b2","#4f58a5","#7b3f94","#a5218a","#c9127e","#de1668","#e91c4e"]},"legend":null}}},
{"data":{"values":[{"f":"B6","x":2.9,"t":"(a) 0.5 pts/m²"}]},"mark":{"type":"text","align":"left","fontWeight":"bold","fontSize":64,"font":"Liberation Serif","color":"#000"},"encoding":{"x":{"field":"x","type":"quantitative","scale":{"domain":[-30,30]},"axis":null},"y":{"field":"f","type":"nominal","sort":null,"title":null},"text":{"field":"t"}}}
],"resolve":{"scale":{"x":"independent"},"axis":{"x":"independent"}}},
{"width":907,"height":1123,"layer":[
{"data":{"name":"bb"},"mark":{"type":"bar","color":"#92bbdc"},"encoding":{"y":{"field":"f","type":"nominal","sort":null,"title":null,"scale":{"type":"band","paddingInner":0.32,"paddingOuter":0.64}},"x":{"field":"m","type":"quantitative","scale":{"domain":[0,10]},"axis":{"orient":"top","values":[0,1,2,3,4,5,6,7,8,9,10],"title":"Mean Shapley Value (Feature Importance)","titlePadding":-9}}}},
{"data":{"values":[{"z":0}]},"mark":{"type":"rule","color":"#999","strokeWidth":3},"encoding":{"x":{"field":"z","type":"quantitative","scale":{"domain":[-30,30]},"axis":null}}},
{"data":{"name":"b"},"mark":{"type":"tick","orient":"vertical"},"encoding":{"x":{"field":"x","type":"quantitative","scale":{"domain":[-30,30]},"axis":{"orient":"bottom","values":[-30,-20,-10,0,10,20,30],"title":null}},"y":{"field":"f","type":"nominal","sort":null,"title":null},"size":{"field":"n","type":"quantitative","scale":{"domain":[1,10],"range":[8,43]},"legend":null},"color":{"field":"v","type":"quantitative","legend":null}}},
{"data":{"values":[{"f":"B6","x":4.3,"t":"(b) 1 pts/m²"}]},"mark":{"type":"text","align":"left","fontWeight":"bold","fontSize":64,"font":"Liberation Serif","color":"#000"},"encoding":{"x":{"field":"x","type":"quantitative","scale":{"domain":[-30,30]},"axis":null},"y":{"field":"f","type":"nominal","sort":null,"title":null},"text":{"field":"t"}}}
],"resolve":{"scale":{"x":"independent"},"axis":{"x":"independent"}}},
{"width":909,"height":1123,"layer":[
{"data":{"name":"bc"},"mark":{"type":"bar","color":"#92bbdc"},"encoding":{"y":{"field":"f","type":"nominal","sort":null,"title":null,"scale":{"type":"band","paddingInner":0.32,"paddingOuter":0.64}},"x":{"field":"m","type":"quantitative","scale":{"domain":[0,10]},"axis":{"orient":"top","values":[0,1,2,3,4,5,6,7,8,9,10],"title":"Mean Shapley Value (Feature Importance)","titlePadding":-9}}}},
{"data":{"values":[{"z":0}]},"mark":{"type":"rule","color":"#999","strokeWidth":3},"encoding":{"x":{"field":"z","type":"quantitative","scale":{"domain":[-30,30]},"axis":null}}},
{"data":{"name":"c"},"mark":{"type":"tick","orient":"vertical"},"encoding":{"x":{"field":"x","type":"quantitative","scale":{"domain":[-30,30]},"axis":{"orient":"bottom","values":[-30,-20,-10,0,10,20,30],"title":null}},"y":{"field":"f","type":"nominal","sort":null,"title":null},"size":{"field":"n","type":"quantitative","scale":{"domain":[1,10],"range":[8,43]},"legend":null},"color":{"field":"v","type":"quantitative","legend":null}}},
{"data":{"values":[{"f":"B6","x":5.5,"t":"(c) 2 pts/m²"}]},"mark":{"type":"text","align":"left","dy":-14,"fontWeight":"bold","fontSize":64,"font":"Liberation Serif","color":"#000"},"encoding":{"x":{"field":"x","type":"quantitative","scale":{"domain":[-30,30]},"axis":null},"y":{"field":"f","type":"nominal","sort":null,"title":null},"text":{"field":"t"}}}
],"resolve":{"scale":{"x":"independent"},"axis":{"x":"independent"}}}
],"spacing":25},
{"hconcat":[
{"width":908,"height":1123,"layer":[
{"data":{"name":"bd"},"mark":{"type":"bar","color":"#92bbdc"},"encoding":{"y":{"field":"f","type":"nominal","sort":null,"title":null,"scale":{"type":"band","paddingInner":0.32,"paddingOuter":0.64}},"x":{"field":"m","type":"quantitative","scale":{"domain":[0,10]},"axis":{"orient":"top","values":[0,1,2,3,4,5,6,7,8,9,10],"title":null}}}},
{"data":{"values":[{"z":0}]},"mark":{"type":"rule","color":"#999","strokeWidth":3},"encoding":{"x":{"field":"z","type":"quantitative","scale":{"domain":[-30,30]},"axis":null}}},
{"data":{"name":"d"},"mark":{"type":"tick","orient":"vertical"},"encoding":{"x":{"field":"x","type":"quantitative","scale":{"domain":[-30,30]},"axis":{"orient":"bottom","values":[-30,-20,-10,0,10,20,30],"title":"Shapley Value Contribution","titlePadding":4}},"y":{"field":"f","type":"nominal","sort":null,"title":null},"size":{"field":"n","type":"quantitative","scale":{"domain":[1,10],"range":[8,43]},"legend":null},"color":{"field":"v","type":"quantitative","legend":null}}},
{"data":{"values":[{"f":"Hsq","x":6.2,"t":"(d) 5 pts/m²"}]},"mark":{"type":"text","align":"left","dy":-24,"fontWeight":"bold","fontSize":64,"font":"Liberation Serif","color":"#000"},"encoding":{"x":{"field":"x","type":"quantitative","scale":{"domain":[-30,30]},"axis":null},"y":{"field":"f","type":"nominal","sort":null,"title":null},"text":{"field":"t"}}}
],"resolve":{"scale":{"x":"independent"},"axis":{"x":"independent"}}},
{"width":914,"height":1123,"layer":[
{"data":{"name":"be"},"mark":{"type":"bar","color":"#92bbdc"},"encoding":{"y":{"field":"f","type":"nominal","sort":null,"title":null,"scale":{"type":"band","paddingInner":0.32,"paddingOuter":0.64}},"x":{"field":"m","type":"quantitative","scale":{"domain":[0,10]},"axis":{"orient":"top","values":[0,1,2,3,4,5,6,7,8,9,10],"title":null}}}},
{"data":{"values":[{"z":0}]},"mark":{"type":"rule","color":"#999","strokeWidth":3},"encoding":{"x":{"field":"z","type":"quantitative","scale":{"domain":[-30,30]},"axis":null}}},
{"data":{"name":"e"},"mark":{"type":"tick","orient":"vertical"},"encoding":{"x":{"field":"x","type":"quantitative","scale":{"domain":[-30,30]},"axis":{"orient":"bottom","values":[-30,-20,-10,0,10,20,30],"title":"Shapley Value Contribution","titlePadding":4}},"y":{"field":"f","type":"nominal","sort":null,"title":null},"size":{"field":"n","type":"quantitative","scale":{"domain":[1,10],"range":[8,43]},"legend":null},"color":{"field":"v","type":"quantitative","legend":null}}},
{"data":{"values":[{"f":"D7","x":7,"t":"(e) 10 pts/m²"}]},"mark":{"type":"text","align":"left","dy":-20,"fontWeight":"bold","fontSize":64,"font":"Liberation Serif","color":"#000"},"encoding":{"x":{"field":"x","type":"quantitative","scale":{"domain":[-30,30]},"axis":null},"y":{"field":"f","type":"nominal","sort":null,"title":null},"text":{"field":"t"}}}
],"resolve":{"scale":{"x":"independent"},"axis":{"x":"independent"}}}
],"spacing":28}
],"spacing":50},
{"width":287,"height":2406,"view":{"stroke":null},"layer":[
{"data":{"values":[{"x":0,"x2":0.108,"y":0,"y2":1}]},"mark":{"type":"rect","color":{"gradient":"linear","x1":0,"y1":1,"x2":0,"y2":0,"stops":[{"offset":0,"color":"#2f7bbf"},{"offset":0.2,"color":"#2569b2"},{"offset":0.35,"color":"#4f58a5"},{"offset":0.5,"color":"#7b3f94"},{"offset":0.65,"color":"#a5218a"},{"offset":0.75,"color":"#c9127e"},{"offset":0.85,"color":"#de1668"},{"offset":1,"color":"#e91c4e"}]}},"encoding":{"x":{"field":"x","type":"quantitative","scale":{"domain":[0,1],"nice":false},"axis":null},"x2":{"field":"x2"},"y":{"field":"y","type":"quantitative","scale":{"domain":[-0.0128,1.0154],"nice":false},"axis":null},"y2":{"field":"y2"}}},
{"data":{"values":[{"x":0.29,"y":0.994,"t":"High"},{"x":0.24,"y":0.014,"t":"Low"}]},"mark":{"type":"text","align":"left","fontWeight":"bold","fontSize":87,"font":"Liberation Serif","color":"#000"},"encoding":{"x":{"field":"x","type":"quantitative","scale":{"domain":[0,1],"nice":false},"axis":null},"y":{"field":"y","type":"quantitative","scale":{"domain":[-0.0128,1.0154],"nice":false},"axis":null},"text":{"field":"t"}}},
{"data":{"values":[{"x":0.6,"y":0.518,"t":"Value"}]},"mark":{"type":"text","angle":270,"fontWeight":"bold","fontSize":108,"font":"Liberation Serif","color":"#000"},"encoding":{"x":{"field":"x","type":"quantitative","scale":{"domain":[0,1],"nice":false},"axis":null},"y":{"field":"y","type":"quantitative","scale":{"domain":[-0.0128,1.0154],"nice":false},"axis":null},"text":{"field":"t"}}}
]}
],"spacing":75
}
